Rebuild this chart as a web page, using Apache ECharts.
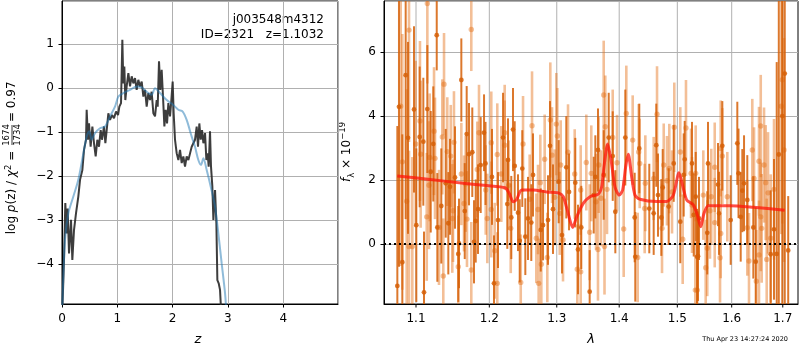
<!DOCTYPE html>
<html>
<head>
<meta charset="utf-8">
<script src="https://cdn.jsdelivr.net/npm/echarts@6/dist/echarts.min.js"></script>
<style>
  html, body { margin: 0; padding: 0; background: #fff; }
  #chart { width: 800px; height: 350px; }
</style>
</head>
<body>
<div id="chart"></div>
<script>
// ---- left panel: log p(z) ----
const zDark = [0, 0.036, 0.060, 0.084, 0.102, 0.127, 0.163, 0.187, 0.217, 0.253,
  0.295, 0.326, 0.368, 0.398, 0.434, 0.446, 0.470, 0.488, 0.518, 0.549,
  0.579, 0.609, 0.639, 0.669, 0.699, 0.723, 0.760, 0.784, 0.808, 0.838,
  0.868, 0.904, 0.940, 0.977, 1.013, 1.037, 1.067, 1.091, 1.109, 1.127,
  1.145, 1.169, 1.200, 1.230, 1.260, 1.290, 1.320, 1.350, 1.380, 1.410,
  1.441, 1.471, 1.501, 1.531, 1.561, 1.591, 1.621, 1.652, 1.682, 1.712,
  1.730, 1.754, 1.778, 1.802, 1.826, 1.851, 1.875, 1.899, 1.923, 1.953,
  1.977, 2.001, 2.019, 2.043, 2.074, 2.104, 2.134, 2.164, 2.194, 2.224,
  2.254, 2.285, 2.315, 2.345, 2.375, 2.405, 2.435, 2.459, 2.483, 2.508,
  2.532, 2.556, 2.586, 2.610, 2.634, 2.652, 2.676, 2.694, 2.718, 2.737,
  2.767, 2.791, 2.809, 2.833, 2.857, 2.887]
const logpDark = [-5.3, -3.90, -2.61, -3.30, -2.73, -3.75, -2.99, -3.90, -3.22, -2.84,
  -2.46, -2.08, -1.86, -1.40, -1.17, -0.49, -1.17, -0.80, -1.33, -0.87,
  -1.25, -1.55, -1.17, -1.33, -0.95, -1.17, -0.87, -1.25, -0.95, -0.57,
  -0.72, -0.61, -0.68, -0.53, -0.61, -0.42, -0.34, 1.10, 0.11, 0.49,
  -0.27, 0.04, 0.34, 0.04, 0.27, 0.11, 0.23, -0.04, 0.19, 0.04,
  0.15, -0.19, -0.04, -0.42, -0.11, -0.27, -0.08, -0.57, -0.64, -0.27,
  -0.42, 0.61, -0.04, 0.42, -0.19, -0.87, -0.49, -0.80, -0.34, -0.64,
  -0.27, 0.15, -0.57, -1.17, -1.48, -1.63, -1.40, -1.70, -1.55, -1.78,
  -1.55, -1.63, -1.48, -1.33, -1.25, -1.17, -0.87, -1.33, -0.80, -1.17,
  -0.95, -1.25, -1.02, -1.63, -1.48, -1.78, -0.98, -1.78, -2.23, -2.99,
  -2.31, -3.07, -4.36, -4.43, -4.58, -5.3]
const zBlue = [0.005, 0.054, 0.115, 0.205, 0.295, 0.386, 0.446, 0.494, 0.536, 0.597,
  0.687, 0.778, 0.868, 0.958, 1.019, 1.109, 1.230, 1.350, 1.441, 1.531,
  1.621, 1.682, 1.772, 1.893, 2.013, 2.104, 2.182, 2.254, 2.345, 2.405,
  2.465, 2.513, 2.556, 2.616, 2.688, 2.767, 2.827, 2.887, 2.948, 2.978]
const logpBlue = [-5.0, -3.45, -2.84, -2.46, -2.08, -1.48, -1.10, -0.98, -1.17, -1.02,
  -0.91, -0.87, -0.64, -0.42, -0.19, -0.11, -0.04, 0.04, 0.02, -0.08,
  -0.15, 0.0, -0.11, -0.27, -0.38, -0.49, -0.53, -0.72, -1.10, -1.33,
  -1.63, -1.74, -1.59, -1.86, -2.23, -2.69, -3.30, -3.98, -4.66, -5.2]

// ---- right panel: spectrum ----
const darkLam = [1.1274, 1.0866, 1.1608, 1.0780, 1.0974, 1.1149, 1.0896, 1.1048, 1.1096, 1.1228,
  1.1682, 1.1925, 1.1714, 1.1760, 1.1878, 1.1946, 1.1194, 1.1521, 1.1395, 1.1453,
  1.1335, 1.1840, 1.1655, 1.1808, 1.1430, 1.1004, 1.1282, 1.1576, 1.1784, 1.1566,
  1.0823, 1.0759, 1.1105, 1.2197, 1.2342, 1.2896, 1.2269, 1.2367, 1.2479, 1.2038,
  1.2639, 1.3148, 1.3030, 1.3289, 1.3191, 1.2259, 1.2317, 1.2416, 1.2564, 1.2942,
  1.2124, 1.2613, 1.2755, 1.2790, 1.2866, 1.3384, 1.2524, 1.2441, 1.3081, 1.3332,
  1.2067, 1.3518, 1.4102, 1.3827, 1.4630, 1.4338, 1.3652, 1.3893, 1.4936, 1.5264,
  1.5132, 1.5114, 1.3609, 1.3745, 1.3583, 1.4660, 1.4742, 1.4509, 1.4585, 1.4847,
  1.3936, 1.4260, 1.5295, 1.4718, 1.5053, 1.4270, 1.5355, 1.5823, 1.6107, 1.5556,
  1.7040, 1.6130, 1.5742, 1.6236, 1.6203, 1.5331, 1.6299, 1.5761, 1.6172, 1.5391,
  1.5981, 1.6416, 1.6824, 1.5543, 1.5373, 1.6463, 1.6758, 1.6878, 1.6920, 1.6990, 1.7110]
const darkFlux = [6.53, 5.28, 5.13, 4.29, 4.21, 4.22, 3.32, 3.35, 3.20, 3.13,
  3.44, 3.48, 2.81, 2.87, 2.47, 2.52, 2.26, 2.08, 1.90, 1.79,
  1.19, 1.09, 1.03, 0.72, 0.65, 0.59, 0.52, 0.02, 0.07, -0.31,
  -0.57, -1.31, -1.51, 3.33, 3.58, 3.07, 2.63, 2.44, 2.36, 2.10,
  2.16, 2.40, 1.95, 1.92, 1.63, 1.25, 0.83, 0.98, 0.80, 1.09,
  0.75, 0.67, 0.44, 0.59, 0.75, 0.52, 0.23, 0.10, 0.28, -0.17,
  -1.23, -1.49, 3.33, 3.33, 3.09, 2.99, 2.94, 2.75, 2.52, 2.52,
  2.65, 2.16, 2.10, 2.16, 1.53, 1.53, 1.77, 1.11, 0.96, 1.17,
  1.01, 0.83, 0.91, 0.83, 0.70, -0.40, -0.40, 3.07, 3.15, 2.52,
  5.33, 2.21, 1.86, 1.90, 1.67, 1.48, 1.38, 0.96, 0.85, 0.80,
  0.75, 0.52, 0.46, 0.35, -0.38, -0.55, -0.32, -0.31, 2.80, 4.00, -0.20]
const darkErr = [1.1, 4.5, 1.3, 5.0, 2.6, 2.0, 3.0, 2.2, 2.0, 1.8,
  1.5, 1.2, 1.6, 1.4, 1.5, 1.3, 1.9, 1.6, 1.7, 1.5,
  1.8, 1.4, 1.5, 1.3, 1.6, 2.4, 1.7, 1.4, 1.3, 1.5,
  4.0, 5.0, 1.9, 1.4, 1.3, 1.4, 1.3, 1.4, 1.2, 1.5,
  1.3, 1.6, 1.3, 1.4, 1.2, 1.4, 1.3, 1.2, 1.3, 1.4,
  1.5, 1.2, 1.3, 1.1, 1.4, 1.3, 1.2, 1.3, 1.2, 1.4,
  1.5, 1.3, 1.5, 1.4, 1.3, 1.4, 1.3, 1.4, 1.2, 1.3,
  1.2, 1.3, 1.3, 1.4, 1.2, 1.3, 1.2, 1.4, 1.3, 1.2,
  1.3, 1.4, 1.3, 1.2, 1.3, 1.4, 1.5, 1.4, 1.3, 1.3,
  9.0, 1.4, 1.3, 1.5, 1.3, 1.4, 1.4, 1.3, 1.4, 1.3,
  1.4, 1.6, 2.2, 1.3, 1.4, 1.7, 2.0, 6.0, 8.0, 9.0, 1.7]

const lightLam = [1.1149, 1.0909, 1.1746, 1.1372, 1.0802, 1.1052, 1.1238, 1.1349, 1.1507, 1.1854,
  1.0996, 1.1416, 1.1061, 1.1180, 1.1251, 1.1463, 1.0823, 1.1830, 1.1608, 1.1668,
  1.1171, 1.1949, 1.0879, 1.1645, 1.1494, 1.1141, 1.1484, 1.1686, 1.1971, 1.1304,
  1.0909, 1.0952, 1.1566, 1.1746, 1.1362, 1.2221, 1.2028, 1.2624, 1.2901, 1.2993,
  1.3009, 1.2221, 1.2490, 1.2114, 1.2815, 1.2927, 1.3175, 1.3061, 1.3464, 1.2172,
  1.3280, 1.3544, 1.2279, 1.2749, 1.3375, 1.2028, 1.2589, 1.2968, 1.2714, 1.3046,
  1.2309, 1.3518, 1.2688, 1.3097, 1.2077, 1.2855, 1.2764, 1.3321, 1.3375, 1.2456,
  1.2724, 1.2114, 1.3745, 1.4119, 1.4643, 1.3771, 1.4946, 1.5155, 1.3893, 1.4226,
  1.4328, 1.5053, 1.3964, 1.4345, 1.4760, 1.4858, 1.3664, 1.5246, 1.4585, 1.4817,
  1.4441, 1.3799, 1.3701, 1.4906, 1.3620, 1.4430, 1.5264, 1.4730, 1.4075, 1.5096,
  1.3758, 1.3652, 1.4311, 1.5324, 1.6561, 1.5793, 1.6396, 1.5823, 1.6527, 1.6626,
  1.7025, 1.6971, 1.6991, 1.5331, 1.5681, 1.6430, 1.6659, 1.6824, 1.6705, 1.5470,
  1.5617, 1.5917, 1.5593, 1.6561, 1.5681, 1.6299, 1.6580, 1.5793, 1.6758, 1.5543,
  1.5780, 1.6332, 1.6527, 1.6679, 1.5514, 1.6474, 1.5360]
const lightFlux = [7.52, 6.69, 6.71, 5.00, 4.31, 3.85, 3.53, 3.35, 3.18, 3.48,
  3.13, 2.89, 2.81, 2.71, 2.68, 2.75, 2.57, 2.33, 2.19, 1.88,
  1.84, 1.69, 1.34, 1.27, 1.04, 0.85, 0.80, 0.78, 0.80, 0.52,
  -0.08, -0.08, -0.71, -0.81, -1.00, 3.48, 3.17, 3.70, 3.88, 3.75,
  3.38, 3.09, 3.13, 2.80, 2.65, 2.78, 2.87, 2.47, 2.55, 2.19,
  2.19, 2.21, 1.84, 1.92, 1.69, 1.08, 1.40, 1.46, 1.08, 0.96,
  0.49, 0.37, 0.18, 0.13, -0.21, -0.42, -0.63, -0.79, -0.87, -1.20,
  -1.23, -1.23, 4.66, 4.08, 4.06, 3.67, 3.65, 3.63, 3.33, 3.25,
  2.88, 2.88, 2.54, 2.52, 2.47, 2.36, 2.47, 2.21, 2.05, 1.98,
  1.90, 1.71, 1.43, 1.63, 1.32, 1.11, 1.22, 0.49, 0.47, 0.15,
  -0.08, -0.17, -0.42, -1.44, 3.69, 2.99, 2.94, 2.75, 2.59, 2.47,
  2.94, 4.31, 5.14, 2.21, 2.40, 2.05, 1.92, 1.71, 1.60, 1.53,
  1.48, 1.48, 1.04, 0.85, 0.67, 0.51, 0.49, 0.33, 0.18, -0.13,
  -0.43, -0.53, -0.34, -0.48, -0.74, -1.16, -1.44]
const lightErr = [2.5, 3.5, 1.3, 1.6, 5.0, 2.5, 2.0, 1.8, 1.6, 1.5,
  2.6, 1.7, 2.3, 2.0, 1.9, 1.6, 4.0, 1.5, 1.6, 1.5,
  2.0, 1.4, 3.5, 1.5, 1.6, 2.0, 1.7, 1.5, 1.4, 1.8,
  3.0, 2.8, 1.6, 1.5, 1.8, 1.5, 1.6, 1.7, 1.8, 1.6,
  1.5, 1.4, 1.5, 1.6, 1.4, 1.5, 1.5, 1.4, 1.5, 1.5,
  1.4, 1.5, 1.4, 1.5, 1.4, 1.5, 1.4, 1.5, 1.4, 1.3,
  1.4, 1.5, 1.4, 1.3, 1.5, 1.4, 1.3, 1.4, 1.5, 1.5,
  1.4, 1.6, 1.7, 1.5, 1.5, 1.6, 1.4, 1.5, 1.5, 1.4,
  1.5, 1.4, 1.5, 1.4, 1.3, 1.4, 1.5, 1.4, 1.3, 1.4,
  1.5, 1.4, 1.5, 1.3, 1.5, 1.4, 1.5, 1.4, 1.5, 1.4,
  1.5, 1.6, 1.4, 1.5, 1.6, 1.5, 1.6, 1.5, 1.7, 1.8,
  3.5, 4.0, 4.5, 1.5, 1.4, 1.6, 1.8, 2.2, 1.9, 1.4,
  1.5, 1.4, 1.5, 1.7, 1.4, 1.5, 1.7, 1.4, 2.0, 1.5,
  1.4, 1.5, 1.7, 1.9, 1.5, 1.6, 1.5]

const modelLam = [1.0758, 1.1185, 1.1636, 1.1963, 1.2226, 1.2288, 1.2346, 1.2396, 1.2470, 1.2643,
  1.2846, 1.3024, 1.3102, 1.3164, 1.3248, 1.3311, 1.3416, 1.3523, 1.3657, 1.3712,
  1.3750, 1.3810, 1.3865, 1.3930, 1.4001, 1.4058, 1.4108, 1.4152, 1.4209, 1.4265,
  1.4350, 1.4637, 1.4812, 1.4929, 1.5030, 1.5107, 1.5168, 1.5288, 1.5361, 1.5423,
  1.5483, 1.5563, 1.5965, 1.6417, 1.7038]
const modelFlux = [2.13, 2.02, 1.90, 1.83, 1.76, 1.58, 1.32, 1.40, 1.69, 1.69,
  1.63, 1.60, 1.48, 1.06, 0.52, 0.85, 1.27, 1.48, 1.56, 1.79,
  2.42, 3.13, 2.63, 1.79, 1.53, 1.69, 2.42, 2.81, 2.10, 1.53,
  1.40, 1.33, 1.33, 1.53, 2.23, 1.74, 1.38, 1.22, 0.91, 0.54,
  0.96, 1.20, 1.20, 1.15, 1.06]

const lamTicks = [1.1, 1.2, 1.3, 1.4, 1.5, 1.6, 1.7]

// axis ranges
const zMin = 0, zMax = 4.99
const pMin = -4.9, pMax = 1.98
const lamMin = 1.059, lamMax = 1.731
const fMin = -1.875, fMax = 7.6

const FONT = 'DejaVu Sans'
const minus = v => String(v).replace('-', '\u2212')

const chart = echarts.init(document.getElementById('chart'))

function zip(a, b) {
  return a.map((v, i) => [v, b[i]])
}
function errRows(lam, flux, err) {
  return lam.map((l, i) => [Math.log10(l), flux[i], err[i]])
}

function errorBars(color, width, radius) {
  return function (params, api) {
    const x = api.value(0)
    const y = api.value(1)
    const e = api.value(2)
    const lo = Math.max(y - e, fMin)
    const hi = Math.min(y + e, fMax)
    const children = []
    if (hi > lo) {
      const a = api.coord([x, lo])
      const b = api.coord([x, hi])
      children.push({
        type: 'line',
        shape: { x1: a[0], y1: a[1], x2: b[0], y2: b[1] },
        style: { stroke: color, lineWidth: width }
      })
    }
    if (y > fMin && y < fMax) {
      const c = api.coord([x, y])
      children.push({
        type: 'circle',
        shape: { cx: c[0], cy: c[1], r: radius },
        style: { fill: color }
      })
    }
    return { type: 'group', children }
  }
}

const gridLine = { show: true, lineStyle: { color: '#b0b0b0', width: 1 } }
const axisLine = { show: true, onZero: false, lineStyle: { color: '#000', width: 1 } }
const axisTick = { show: true, length: 3.5, lineStyle: { color: '#000' } }
const tickLabel = { color: '#000', fontSize: 12, fontFamily: FONT, showMinLabel: false, showMaxLabel: false }

chart.setOption({
  animation: false,
  backgroundColor: '#fff',
  grid: [
    { left: 62, top: 1, width: 276, height: 303, show: true, borderColor: '#000', borderWidth: 1 },
    { left: 384, top: 1, width: 414, height: 303, show: true, borderColor: '#000', borderWidth: 1 }
  ],
  xAxis: [{
    gridIndex: 0,
    type: 'value',
    min: zMin,
    max: zMax,
    minInterval: 1,
    maxInterval: 1,
    axisLine,
    axisTick,
    splitLine: gridLine,
    axisLabel: Object.assign({}, tickLabel, { margin: 9, formatter: minus, showMinLabel: true })
  }, {
    gridIndex: 1,
    type: 'value',
    min: Math.log10(lamMin),
    max: Math.log10(lamMax),
    axisLine,
    axisTick: { show: false },
    splitLine: { show: false },
    axisLabel: { show: false }
  }],
  yAxis: [{
    gridIndex: 0,
    type: 'value',
    min: pMin,
    max: pMax,
    minInterval: 1,
    maxInterval: 1,
    axisLine,
    axisTick,
    splitLine: gridLine,
    axisLabel: Object.assign({}, tickLabel, { margin: 8, formatter: minus })
  }, {
    gridIndex: 1,
    type: 'value',
    min: fMin,
    max: fMax,
    minInterval: 2,
    maxInterval: 2,
    axisLine,
    axisTick,
    splitLine: gridLine,
    axisLabel: Object.assign({}, tickLabel, { margin: 8, formatter: minus })
  }],
  series: [{
    type: 'line',
    xAxisIndex: 0,
    yAxisIndex: 0,
    data: zip(zDark, logpDark),
    showSymbol: false,
    clip: true,
    z: 3,
    lineStyle: { color: 'rgba(40,40,40,0.9)', width: 2 }
  }, {
    type: 'line',
    xAxisIndex: 0,
    yAxisIndex: 0,
    data: zip(zBlue, logpBlue),
    showSymbol: false,
    smooth: 0.3,
    clip: true,
    z: 4,
    lineStyle: { color: 'rgba(31,119,180,0.5)', width: 2 }
  }, {
    // wavelength ticks, grid lines and labels on the log axis
    type: 'custom',
    xAxisIndex: 1,
    yAxisIndex: 1,
    z: 1,
    silent: true,
    data: lamTicks.map(v => [Math.log10(v), v]),
    renderItem(params, api) {
      const x = api.value(0)
      const bot = api.coord([x, fMin])
      const top = api.coord([x, fMax])
      return {
        type: 'group',
        children: [
          { type: 'line', shape: { x1: bot[0], y1: top[1], x2: bot[0], y2: bot[1] }, style: { stroke: '#b0b0b0', lineWidth: 1 } },
          { type: 'line', shape: { x1: bot[0], y1: bot[1], x2: bot[0], y2: bot[1] + 3.5 }, style: { stroke: '#000', lineWidth: 1 } },
          { type: 'text', x: bot[0], y: bot[1] + 9, style: { text: api.value(1).toFixed(1), align: 'center', verticalAlign: 'top', fontSize: 12, fontFamily: FONT, fill: '#000' } }
        ]
      }
    }
  }, {
    type: 'custom',
    xAxisIndex: 1,
    yAxisIndex: 1,
    z: 3,
    silent: true,
    data: errRows(lightLam, lightFlux, lightErr),
    encode: { x: 0, y: 1 },
    renderItem: errorBars('rgba(228,112,25,0.45)', 2.6, 2.7)
  }, {
    type: 'custom',
    xAxisIndex: 1,
    yAxisIndex: 1,
    z: 4,
    silent: true,
    data: errRows(darkLam, darkFlux, darkErr),
    encode: { x: 0, y: 1 },
    renderItem: errorBars('rgba(214,96,8,0.85)', 2, 2.4)
  }, {
    type: 'line',
    xAxisIndex: 1,
    yAxisIndex: 1,
    data: modelLam.map((l, i) => [Math.log10(l), modelFlux[i]]),
    showSymbol: false,
    smooth: 0.25,
    z: 5,
    lineStyle: { color: 'rgba(255,20,10,0.75)', width: 3 },
    markLine: {
      silent: true,
      symbol: 'none',
      label: { show: false },
      lineStyle: { color: '#000', width: 2, type: [2, 3] },
      data: [{ yAxis: 0 }]
    }
  }],
  graphic: [
    {
      type: 'text', x: 324, y: 20,
      style: { text: 'j003548m4312', align: 'right', verticalAlign: 'middle', fontSize: 12, fontFamily: FONT, fill: '#000' }
    },
    {
      type: 'text', x: 324, y: 35,
      style: { text: 'ID=2321   z=1.1032', align: 'right', verticalAlign: 'middle', fontSize: 12, fontFamily: FONT, fill: '#000' }
    },
    {
      type: 'text', x: 198, y: 340,
      style: { text: 'z', align: 'center', verticalAlign: 'middle', fontSize: 13, fontStyle: 'italic', fontFamily: FONT, fill: '#000' }
    },
    {
      type: 'text', x: 591, y: 340,
      style: { text: 'λ', align: 'center', verticalAlign: 'middle', fontSize: 13, fontStyle: 'italic', fontFamily: FONT, fill: '#000' }
    },
    {
      type: 'text', x: 788, y: 339,
      style: { text: 'Thu Apr 23 14:27:24 2020', align: 'right', verticalAlign: 'middle', fontSize: 6.5, fontFamily: FONT, fill: '#000' }
    },
    {
      // left y label with the stacked fraction
      type: 'group', x: 12, y: 147, rotation: Math.PI / 2,
      children: [
        {
          type: 'text', x: 0, y: 0,
          style: {
            text: 'log {i|p}(z) / {i|χ}{sup|2} = ',
            align: 'right', verticalAlign: 'middle', fontSize: 12, fontFamily: FONT, fill: '#000',
            rich: {
              i: { fontStyle: 'italic', fontSize: 12, fontFamily: FONT, lineHeight: 16 },
              sup: { fontSize: 8.5, fontFamily: FONT, verticalAlign: 'top', lineHeight: 16 }
            }
          }
        },
        { type: 'text', x: 12, y: -5, style: { text: '1674', align: 'center', verticalAlign: 'middle', fontSize: 8.5, fontFamily: FONT, fill: '#000' } },
        { type: 'line', shape: { x1: 2, y1: 0, x2: 22, y2: 0 }, style: { stroke: '#000', lineWidth: 0.8 } },
        { type: 'text', x: 12, y: 5.5, style: { text: '1734', align: 'center', verticalAlign: 'middle', fontSize: 8.5, fontFamily: FONT, fill: '#000' } },
        { type: 'text', x: 25, y: 0, style: { text: '= 0.97', align: 'left', verticalAlign: 'middle', fontSize: 12, fontFamily: FONT, fill: '#000' } }
      ]
    },
    {
      type: 'text', x: 347, y: 152, rotation: Math.PI / 2,
      style: {
        text: '{i|f}{sub|λ} × 10{sup|−19}',
        align: 'center', verticalAlign: 'middle', fontSize: 12, fontFamily: FONT, fill: '#000',
        rich: {
          i: { fontStyle: 'italic', fontSize: 12, fontFamily: FONT, lineHeight: 18 },
          sub: { fontSize: 8.5, fontFamily: FONT, verticalAlign: 'bottom', lineHeight: 18 },
          sup: { fontSize: 8.5, fontFamily: FONT, verticalAlign: 'top', lineHeight: 18 }
        }
      }
    }
  ]
})
</script>
</body>
</html>
